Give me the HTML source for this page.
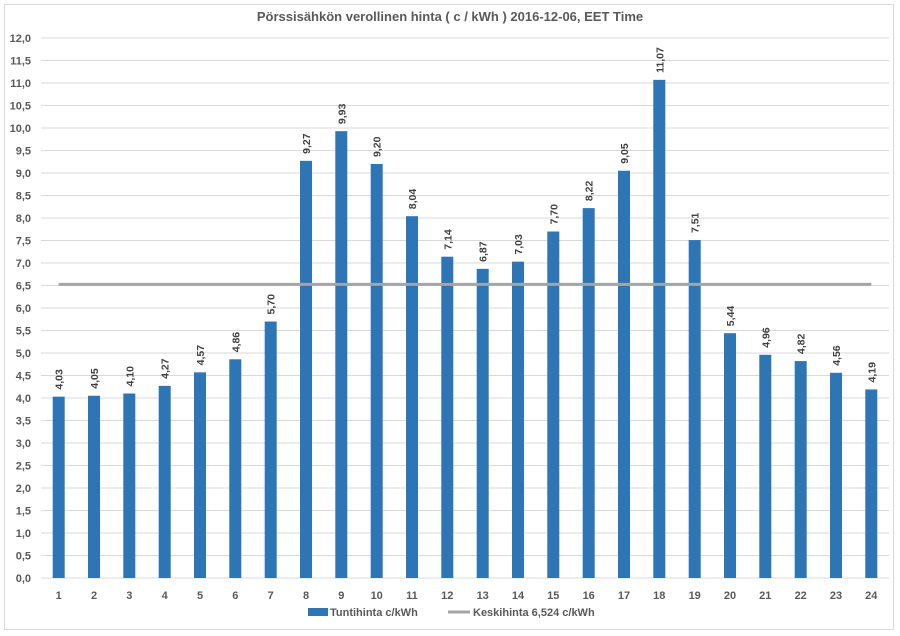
<!DOCTYPE html>
<html><head><meta charset="utf-8"><style>body{margin:0;background:#fff}svg{display:block}text{font-family:"Liberation Sans",sans-serif}</style></head><body>
<svg width="900" height="636" xmlns="http://www.w3.org/2000/svg">
<rect x="4.5" y="4.5" width="889" height="625" fill="#fff" stroke="#d9d9d9"/>
<text x="450" y="21" text-anchor="middle" font-size="13" font-weight="bold" fill="#595959">Pörssisähkön verollinen hinta ( c / kWh ) 2016-12-06, EET Time</text>
<g stroke="#d9d9d9">
<line x1="41" x2="889" y1="578" y2="578"/><line x1="41" x2="889" y1="555.5" y2="555.5"/><line x1="41" x2="889" y1="533" y2="533"/><line x1="41" x2="889" y1="510.5" y2="510.5"/><line x1="41" x2="889" y1="488" y2="488"/><line x1="41" x2="889" y1="465.5" y2="465.5"/><line x1="41" x2="889" y1="443" y2="443"/><line x1="41" x2="889" y1="420.5" y2="420.5"/><line x1="41" x2="889" y1="398" y2="398"/><line x1="41" x2="889" y1="375.5" y2="375.5"/><line x1="41" x2="889" y1="353" y2="353"/><line x1="41" x2="889" y1="330.5" y2="330.5"/><line x1="41" x2="889" y1="308" y2="308"/><line x1="41" x2="889" y1="285.5" y2="285.5"/><line x1="41" x2="889" y1="263" y2="263"/><line x1="41" x2="889" y1="240.5" y2="240.5"/><line x1="41" x2="889" y1="218" y2="218"/><line x1="41" x2="889" y1="195.5" y2="195.5"/><line x1="41" x2="889" y1="173" y2="173"/><line x1="41" x2="889" y1="150.5" y2="150.5"/><line x1="41" x2="889" y1="128" y2="128"/><line x1="41" x2="889" y1="105.5" y2="105.5"/><line x1="41" x2="889" y1="83" y2="83"/><line x1="41" x2="889" y1="60.5" y2="60.5"/><line x1="41" x2="889" y1="38" y2="38"/>
</g>
<g font-size="11" font-weight="bold" fill="#595959" text-anchor="end">
<text x="31" y="582">0,0</text><text x="31" y="559.5">0,5</text><text x="31" y="537">1,0</text><text x="31" y="514.5">1,5</text><text x="31" y="492">2,0</text><text x="31" y="469.5">2,5</text><text x="31" y="447">3,0</text><text x="31" y="424.5">3,5</text><text x="31" y="402">4,0</text><text x="31" y="379.5">4,5</text><text x="31" y="357">5,0</text><text x="31" y="334.5">5,5</text><text x="31" y="312">6,0</text><text x="31" y="289.5">6,5</text><text x="31" y="267">7,0</text><text x="31" y="244.5">7,5</text><text x="31" y="222">8,0</text><text x="31" y="199.5">8,5</text><text x="31" y="177">9,0</text><text x="31" y="154.5">9,5</text><text x="31" y="132">10,0</text><text x="31" y="109.5">10,5</text><text x="31" y="87">11,0</text><text x="31" y="64.5">11,5</text><text x="31" y="42">12,0</text>
</g>
<g fill="#2e75b6">
<rect x="52.7" y="396.65" width="12" height="181.35"/><rect x="88" y="395.75" width="12" height="182.25"/><rect x="123.3" y="393.5" width="12" height="184.5"/><rect x="158.7" y="385.85" width="12" height="192.15"/><rect x="194" y="372.35" width="12" height="205.65"/><rect x="229.3" y="359.3" width="12" height="218.7"/><rect x="264.7" y="321.5" width="12" height="256.5"/><rect x="300" y="160.85" width="12" height="417.15"/><rect x="335.3" y="131.15" width="12" height="446.85"/><rect x="370.7" y="164" width="12" height="414"/><rect x="406" y="216.2" width="12" height="361.8"/><rect x="441.3" y="256.7" width="12" height="321.3"/><rect x="476.7" y="268.85" width="12" height="309.15"/><rect x="512" y="261.65" width="12" height="316.35"/><rect x="547.3" y="231.5" width="12" height="346.5"/><rect x="582.7" y="208.1" width="12" height="369.9"/><rect x="618" y="170.75" width="12" height="407.25"/><rect x="653.3" y="79.85" width="12" height="498.15"/><rect x="688.7" y="240.05" width="12" height="337.95"/><rect x="724" y="333.2" width="12" height="244.8"/><rect x="759.3" y="354.8" width="12" height="223.2"/><rect x="794.7" y="361.1" width="12" height="216.9"/><rect x="830" y="372.8" width="12" height="205.2"/><rect x="865.3" y="389.45" width="12" height="188.55"/>
</g>
<g font-size="10.5" font-weight="bold" fill="#404040">
<text transform="translate(62.7,389.65) rotate(-90)">4,03</text>
<text transform="translate(98,388.75) rotate(-90)">4,05</text>
<text transform="translate(133.3,386.5) rotate(-90)">4,10</text>
<text transform="translate(168.7,378.85) rotate(-90)">4,27</text>
<text transform="translate(204,365.35) rotate(-90)">4,57</text>
<text transform="translate(239.3,352.3) rotate(-90)">4,86</text>
<text transform="translate(274.7,314.5) rotate(-90)">5,70</text>
<text transform="translate(310,153.85) rotate(-90)">9,27</text>
<text transform="translate(345.3,124.15) rotate(-90)">9,93</text>
<text transform="translate(380.7,157) rotate(-90)">9,20</text>
<text transform="translate(416,209.2) rotate(-90)">8,04</text>
<text transform="translate(451.3,249.7) rotate(-90)">7,14</text>
<text transform="translate(486.7,261.85) rotate(-90)">6,87</text>
<text transform="translate(522,254.65) rotate(-90)">7,03</text>
<text transform="translate(557.3,224.5) rotate(-90)">7,70</text>
<text transform="translate(592.7,201.1) rotate(-90)">8,22</text>
<text transform="translate(628,163.75) rotate(-90)">9,05</text>
<text transform="translate(663.3,72.85) rotate(-90)">11,07</text>
<text transform="translate(698.7,233.05) rotate(-90)">7,51</text>
<text transform="translate(734,326.2) rotate(-90)">5,44</text>
<text transform="translate(769.3,347.8) rotate(-90)">4,96</text>
<text transform="translate(804.7,354.1) rotate(-90)">4,82</text>
<text transform="translate(840,365.8) rotate(-90)">4,56</text>
<text transform="translate(875.3,382.45) rotate(-90)">4,19</text>
</g>
<g font-size="11" font-weight="bold" fill="#595959" text-anchor="middle">
<text x="58.7" y="599">1</text><text x="94" y="599">2</text><text x="129.3" y="599">3</text><text x="164.7" y="599">4</text><text x="200" y="599">5</text><text x="235.3" y="599">6</text><text x="270.7" y="599">7</text><text x="306" y="599">8</text><text x="341.3" y="599">9</text><text x="376.7" y="599">10</text><text x="412" y="599">11</text><text x="447.3" y="599">12</text><text x="482.7" y="599">13</text><text x="518" y="599">14</text><text x="553.3" y="599">15</text><text x="588.7" y="599">16</text><text x="624" y="599">17</text><text x="659.3" y="599">18</text><text x="694.7" y="599">19</text><text x="730" y="599">20</text><text x="765.3" y="599">21</text><text x="800.7" y="599">22</text><text x="836" y="599">23</text><text x="871.3" y="599">24</text>
</g>
<line x1="58.7" x2="871.3" y1="284.4" y2="284.4" stroke="#a5a5a5" stroke-width="3"/>
<rect x="308" y="608" width="20" height="8" fill="#2e75b6"/>
<text x="330" y="616" font-size="11" font-weight="bold" fill="#595959">Tuntihinta c/kWh</text>
<line x1="448" x2="470" y1="612" y2="612" stroke="#a5a5a5" stroke-width="3"/>
<text x="473" y="616" font-size="11" font-weight="bold" fill="#595959">Keskihinta 6,524 c/kWh</text>
</svg>
</body></html>
